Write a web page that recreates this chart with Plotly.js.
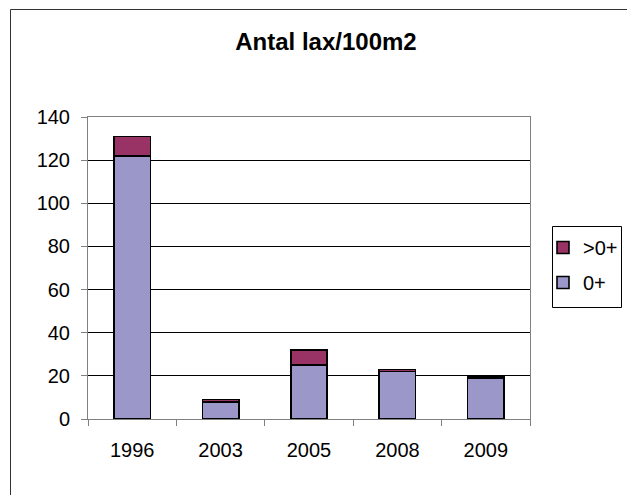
<!DOCTYPE html>
<html>
<head>
<meta charset="utf-8">
<script src="https://cdn.plot.ly/plotly-3.0.1.min.js"></script>
<style>
html,body{margin:0;padding:0;background:#fff;}
#chart{width:627px;height:495px;}
</style>
</head>
<body>
<div id="chart"></div>
<script>
const years = ["1996", "2003", "2005", "2008", "2009"];
const young = [122, 8, 25, 22, 19];      // 0+
const older = [9, 1, 7, 1, 0.4];         // >0+
const yTicks = [0, 20, 40, 60, 80, 100, 120, 140];

const W = 627, H = 495;
const L = 88, R = 530, T = 117, B = 419;
const pw = R - L, ph = B - T;
const px = v => (v - L) / pw;
const py = v => (B - v) / ph;

const font = "Liberation Sans, Arial, sans-serif";

const traces = [
  {
    type: "bar", name: "0+", x: years, y: young,
    marker: {color: "#9b98c9", line: {color: "#000", width: 1.6}},
    legendgroup: "b", legendrank: 2, hoverinfo: "x+y"
  },
  {
    type: "bar", name: ">0+", x: years, y: older,
    marker: {color: "#993366", line: {color: "#000", width: 1.6}},
    legendgroup: "a", legendrank: 1, hoverinfo: "x+y"
  }
];

const layout = {
  width: W, height: H,
  margin: {l: L, r: W - R, t: T, b: H - B, pad: 0, autoexpand: false},
  paper_bgcolor: "#fff", plot_bgcolor: "#fff",
  barmode: "stack", bargap: 0.59,
  font: {family: font, color: "#000", size: 20},
  title: {
    text: "<b>Antal lax/100m2</b>",
    font: {family: font, size: 24, color: "#000"},
    x: 326 / W, xref: "container", xanchor: "center",
    y: 1 - 41.5 / H, yref: "container", yanchor: "middle"
  },
  xaxis: {
    type: "category",
    showline: true, linecolor: "#808080", linewidth: 1, mirror: true,
    ticks: "outside", ticklen: 6, tickcolor: "#808080", tickson: "boundaries",
    tickfont: {family: font, size: 20, color: "#000"},
    ticklabelstandoff: 13,
    showgrid: false, zeroline: false, fixedrange: true
  },
  yaxis: {
    range: [0, 140], tickvals: yTicks, ticktext: yTicks.map(String),
    showline: true, linecolor: "#808080", linewidth: 1, mirror: true,
    ticks: "outside", ticklen: 6, tickcolor: "#808080",
    tickfont: {family: font, size: 20, color: "#000"},
    ticklabelstandoff: 7,
    showgrid: true, gridcolor: "#000", gridwidth: 1,
    zeroline: false, fixedrange: true
  },
  showlegend: true,
  legend: {
    x: px(543), y: py(228), xanchor: "left", yanchor: "top",
    bgcolor: "rgba(0,0,0,0)", borderwidth: 0,
    font: {family: font, size: 20, color: "#000"},
    traceorder: "grouped", tracegroupgap: 6,
    itemwidth: 30
  },
  shapes: [
    {
      type: "rect", xref: "paper", yref: "paper",
      x0: px(10.5), x1: px(700), y0: py(700), y1: py(9.5),
      line: {color: "#333", width: 1}, fillcolor: "rgba(0,0,0,0)", layer: "below"
    },
    {
      type: "rect", xref: "paper", yref: "paper",
      x0: px(552.5), x1: px(621.5), y0: py(307.5), y1: py(226.5),
      line: {color: "#000", width: 1}, fillcolor: "#fff", layer: "below"
    }
  ]
};

Plotly.newPlot("chart", traces, layout, {displayModeBar: false, staticPlot: true});
</script>
</body>
</html>
